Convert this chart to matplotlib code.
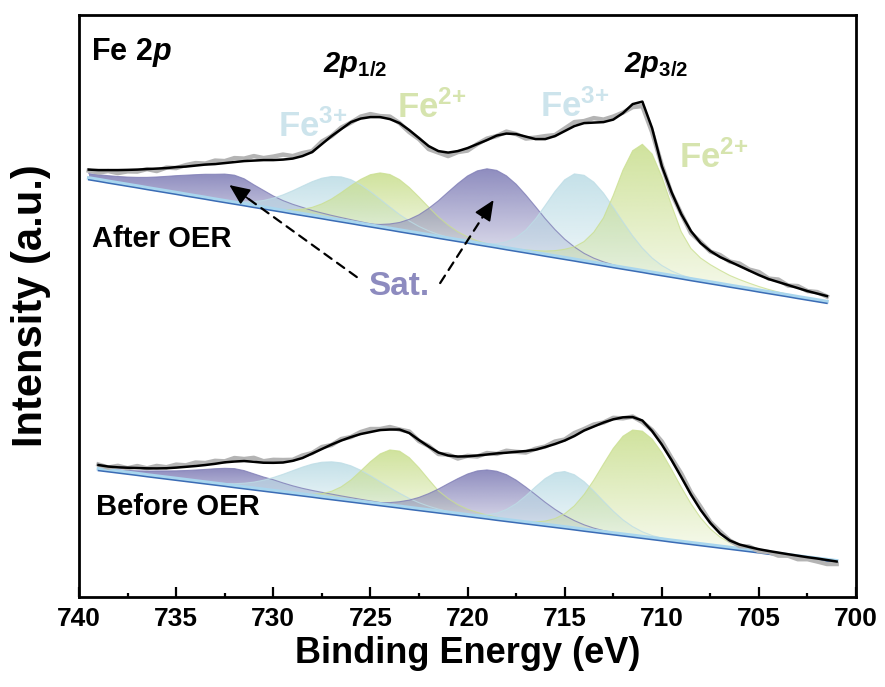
import numpy as np
import matplotlib
matplotlib.use('Agg')
import matplotlib.pyplot as plt
from matplotlib.colors import to_rgb
from matplotlib.ticker import MultipleLocator

# 字体设置 (Arial 替代: Liberation Sans)
plt.rcParams['font.family'] = ['Liberation Sans', 'DejaVu Sans']
plt.rcParams['mathtext.fontset'] = 'custom'
plt.rcParams['mathtext.rm'] = 'Liberation Sans:bold'
plt.rcParams['mathtext.bf'] = 'Liberation Sans:bold'
plt.rcParams['mathtext.it'] = 'Liberation Sans:italic:bold'

step = 0.5  # eV between points

# ---------------- After OER (upper trace), 739.5 -> 701.5 eV ----------------
after_start = 739.5
after_bg = [421.5, 419.9, 418.2, 416.6, 415.0, 413.4, 411.7, 410.1, 408.5, 406.9,
            405.2, 403.6, 402.0, 400.3, 398.7, 397.1, 395.5, 393.8, 392.2, 390.6,
            389.0, 387.3, 385.7, 384.1, 382.5, 380.8, 379.2, 377.6, 375.9, 374.3,
            372.7, 371.1, 369.4, 367.8, 366.2, 364.6, 362.9, 361.3, 359.7, 358.1,
            356.4, 354.8, 353.2, 351.5, 349.9, 348.3, 346.7, 345.0, 343.4, 341.8,
            340.2, 338.5, 336.9, 335.3, 333.6, 332.0, 330.4, 328.8, 327.1, 325.5,
            323.9, 322.3, 320.6, 319.0, 317.4, 315.8, 314.1, 312.5, 310.9, 309.2,
            307.6, 306.0, 304.4, 302.7, 301.1, 299.5, 297.9]
after_fit = [430.5, 430, 430, 430, 430.2, 430.5, 431, 431.5, 432, 433,
             433.5, 434.5, 435.5, 436, 437, 438, 439, 439.5, 440, 440,
             440.5, 441.5, 444, 448, 456, 464, 471, 478, 481.5, 483,
             483, 481, 477, 470, 462, 454, 449, 447.5, 449, 452,
             456, 460, 464.5, 466.5, 466, 463.5, 461, 461, 464, 469,
             474, 477, 477.5, 478, 480.5, 487, 496, 498.5, 472, 434,
             408, 386, 369, 357, 349, 343, 338.5, 334, 329.5, 325,
             321, 318, 315, 312, 309, 306.5, 304]
after_raw = [429.5, 427.5, 429, 427, 428.7, 428.5, 431, 429, 432.5, 432,
             435, 437, 436.5, 439.5, 439, 442, 441.5, 444, 442, 443.5,
             445.5, 444, 447, 449, 458.5, 464, 472.5, 477.5, 483.5, 486,
             484, 483.5, 477, 468, 461, 451, 447.5, 444, 448, 449.5,
             456, 461.5, 464, 468.5, 466, 461.5, 462.5, 464, 465, 471.5,
             478, 479, 482, 480.5, 483.5, 487.5, 493, 494, 468, 435,
             406.5, 386.5, 367, 358, 348.5, 345, 338.5, 336.5, 330.5, 328,
             321.5, 320.5, 314.5, 314, 309, 308, 303.5]
# fitted components: heights above background, first point energy
after_sat1_from = 739.5
after_sat1 = [5.0, 5.5, 6.2, 7.0, 8.0, 9.3, 11.0, 13.0, 15.2, 17.5,
              19.7, 21.8, 23.8, 25.5, 27.3, 27.8, 25.8, 21.5, 17.5, 13.5,
              10.5, 8.5, 7.0, 5.5, 4.6, 3.9, 3.3, 2.8, 2.4, 2.0,
              1.7, 1.4, 1.1, 0.9, 0.7, 0.5, 0.3, 0.2, 0.0]
after_fe3a_from = 733.5
after_fe3a = [0.2, 0.4, 0.8, 1.5, 2.7, 4.6, 7.4, 11.3, 16.2, 22.0, 28.2, 34.3, 39.4, 42.8, 44.0,
              42.8, 39.4, 34.3, 28.2, 22.0, 16.2, 11.3, 7.4, 4.6, 2.7, 1.5, 0.8, 0.4, 0.2]
after_fe2a_from = 730.5
after_fe2a = [0.3, 0.7, 1.5, 2.8, 5.1, 8.6, 13.7, 20.3, 28.3, 36.8, 44.8, 51.1, 54.5,
              54.5, 51.1, 44.8, 36.8, 28.3, 20.3, 13.7, 8.6, 5.1, 2.8, 1.5, 0.7, 0.3]
after_sat2_from = 726.5
after_sat2 = [0.2, 0.4, 0.8, 1.6, 2.9, 5.0, 8.2, 12.9, 19.1, 27.1, 36.4, 46.7, 56.8, 66.0, 72.8, 76.5,
              76.5, 72.8, 66.0, 56.8, 46.7, 36.4, 27.1, 19.1, 12.9, 8.2, 5.0, 2.9, 1.6, 0.8, 0.4, 0.2]
after_fe3b_from = 720.0
after_fe3b = [0.2, 0.6, 1.4, 3.2, 6.6, 12.5, 21.7, 34.4, 49.6, 65.3, 78.5, 86.0,
              86.3, 81.1, 71.6, 59.3, 46.2, 33.8, 23.2, 15.0, 9.1, 5.2, 2.8, 1.4, 0.7, 0.3, 0.1]
after_fe2b_from = 719.5
after_fe2b = [0.2, 0.3, 0.5, 0.8, 1.2, 1.8, 2.7, 4.0, 6.0, 9.0, 13, 20, 31, 47, 71, 98, 119,
              127, 119, 98, 71, 46, 31, 23, 18, 14, 10.5, 8, 6, 4.3, 3, 2, 1.3, 0.8, 0.5, 0.3, 0.1]

# ---------------- Before OER (lower trace), 739.0 -> 701.0 eV ----------------
before_start = 739.0
before_bg = [130.6, 129.4, 128.2, 127.0, 125.8, 124.5, 123.3, 122.1, 120.9, 119.7,
             118.5, 117.3, 116.1, 114.9, 113.6, 112.4, 111.2, 110.0, 108.8, 107.6,
             106.4, 105.2, 104.0, 102.7, 101.5, 100.3, 99.1, 97.9, 96.7, 95.5,
             94.3, 93.1, 91.8, 90.6, 89.4, 88.2, 87.0, 85.8, 84.6, 83.4,
             82.2, 80.9, 79.7, 78.5, 77.3, 76.1, 74.9, 73.7, 72.5, 71.3,
             70.0, 68.8, 67.6, 66.4, 65.2, 64.0, 62.8, 61.6, 60.4, 59.1,
             57.9, 56.7, 55.5, 54.3, 53.1, 51.9, 50.7, 49.5, 48.3, 47.0,
             45.8, 44.6, 43.4, 42.2, 41.0, 39.8, 38.6]
before_fit = [135, 133.5, 132.7, 132.3, 132, 131.7, 131.6, 131.8, 132.4, 133.2,
              134, 135, 136.2, 137.7, 138.5, 139, 138.2, 137.3, 137.2, 137.5,
              139.2, 142, 146.5, 151, 155.5, 159.5, 163, 166, 168, 170,
              170.5, 170.5, 167, 160, 153.5, 147.5, 144.5, 143.5, 143.7, 144.5,
              145.5, 146.6, 147.3, 148.2, 149, 150.3, 153, 156, 159.5, 164,
              169.5, 173.5, 177.5, 180.7, 182.7, 183, 179.5, 169, 155.5, 140,
              123, 105.5, 90, 77, 66.5, 59.5, 55.5, 53, 50.8, 49,
              47.4, 45.8, 44.3, 42.8, 41.5, 40, 38.5]
before_raw = [135.5, 132.5, 134.2, 131.8, 134, 131.7, 134.1, 132.8, 135.4, 134.7,
              137.5, 137, 139.2, 138.7, 142, 141, 142.2, 138.8, 140.2, 140,
              140.2, 144.5, 147, 153, 155, 161, 163, 168, 171, 171,
              173, 170.5, 168.5, 159, 154, 146, 145.5, 141.5, 144.2, 143.5,
              147, 146.1, 149.3, 148.2, 147.5, 151.3, 153.5, 158.5, 160.5, 167,
              171, 175.5, 177.5, 182.2, 181.7, 183.5, 178, 170, 158.5, 142,
              126.5, 107.5, 93, 78, 68.5, 59.5, 54, 53.5, 48.8, 48,
              44.4, 44.3, 40.8, 40.8, 38.5, 36, 36]
before_sat1_from = 739.0
before_sat1 = [1.0, 1.5, 2.0, 2.6, 3.4, 4.5, 5.8, 7.0, 8.3, 9.8,
               11.5, 13.3, 15.2, 16.8, 17.8, 17.0, 15.0, 13.0, 11.5, 9.5,
               7.8, 6.5, 5.6, 5.0, 4.4, 3.8, 3.3, 2.8, 2.4, 2.0,
               1.7, 1.4, 1.1, 0.8, 0.6, 0.4, 0.2, 0.0]
before_fe3a_from = 734.0
before_fe3a = [0.3, 0.5, 0.9, 1.6, 2.7, 4.4, 6.7, 9.8, 13.7, 18.1, 22.9, 27.7, 31.9, 35.1, 36.8,
               36.8, 35.1, 31.9, 27.7, 22.9, 18.1, 13.7, 9.8, 6.7, 4.4, 2.7, 1.6, 0.9, 0.5, 0.3]
before_fe2a_from = 729.0
before_fe2a = [0.3, 0.7, 1.7, 3.6, 7.2, 12.9, 21.0, 31.1, 41.6, 50.6, 55.8,
               55.8, 50.6, 41.6, 31.1, 21.0, 14.5, 9.5, 6.2, 4.2, 2.8, 1.9, 1.2, 0.8, 0.5, 0.3]
before_sat2_from = 726.0
before_sat2 = [0.3, 0.5, 1.0, 1.8, 3.1, 5.2, 8.1, 12.0, 17.0, 22.8, 29.3, 35.6, 41.4, 45.7, 47.9,
               47.9, 45.7, 41.4, 35.6, 29.3, 22.8, 17.0, 12.0, 8.1, 5.2, 3.1, 1.8, 1.0, 0.5, 0.3]
before_fe3b_from = 720.5
before_fe3b = [0.2, 0.6, 1.4, 3.0, 5.9, 10.8, 17.8, 26.9, 37.1, 46.6, 53.5, 56.0,
               54.0, 48.4, 40.3, 31.2, 22.5, 15.0, 9.4, 5.4, 2.9, 1.5, 0.7, 0.3, 0.1]
before_fe2b_from = 718.0
before_fe2b = [0.2, 0.4, 0.9, 1.9, 4.0, 7.7, 13.7, 22.9, 35.5, 51.1, 68.4, 85.2, 98.6, 106.0,
               106.1, 99.4, 87.1, 71.5, 55.0, 39.6, 26.6, 16.8, 9.9, 5.5, 2.8, 1.4, 0.6, 0.3, 0.1]

c_sat = '#7f7db6'
c_fe3 = '#bddde6'
c_fe2 = '#cadf90'


def grad_fill(ax, e, base, top, color):
    # 渐变填充: 峰顶颜色深, 靠近基线变浅
    poly = ax.fill_between(e, base, top, facecolor='none', edgecolor='none')
    clip = poly.get_paths()[0]
    rgba = np.zeros((64, 1, 4))
    rgba[:, 0, :3] = to_rgb(color)
    rgba[:, 0, 3] = np.linspace(0.15, 0.88, 64)
    im = ax.imshow(rgba, extent=(e[0], e[-1], base.min(), top.max()), origin='lower',
                   aspect='auto', interpolation='bilinear', zorder=2)
    im.set_clip_path(clip, transform=ax.transData)
    ax.plot(e, top, color=color, lw=0.8, alpha=0.8, zorder=3)


def draw_spectrum(ax, start, bg, fit, raw, comps):
    e = start - step * np.arange(len(bg))
    bg = np.asarray(bg, dtype=float)
    for e0, h, color in comps:
        i0 = int(round((start - e0) / step))
        h = np.asarray(h, dtype=float)
        base = bg[i0:i0 + len(h)]
        grad_fill(ax, e[i0:i0 + len(h)], base, base + h, color)
    ax.plot(e, bg + 0.6, color='#a9d6ee', lw=2.6, zorder=4)
    ax.plot(e, bg - 1.2, color='#3b6cb5', lw=1.1, zorder=4)
    ax.plot(e, raw, color='#b4b4b4', lw=3.2, zorder=5)
    ax.plot(e, fit, color='black', lw=1.8, zorder=6)


def dashed_arrow(ax, tip, tail):
    ax.annotate('', xy=tip, xytext=tail, zorder=7,
                arrowprops=dict(arrowstyle='-', ls=(0, (4, 3)), lw=1.6, color='black',
                                shrinkA=0, shrinkB=6))
    near = (tip[0] + 0.15 * (tail[0] - tip[0]), tip[1] + 0.15 * (tail[1] - tip[1]))
    ax.annotate('', xy=tip, xytext=near, zorder=7,
                arrowprops=dict(arrowstyle='-|>,head_length=0.9,head_width=0.4', lw=1.2,
                                color='black', shrinkA=0, shrinkB=0, mutation_scale=14))


fig = plt.figure(figsize=(8.85, 6.87), dpi=100)
ax = fig.add_axes([0.0893, 0.131, 0.878, 0.847])

draw_spectrum(ax, after_start, after_bg, after_fit, after_raw, [
    (after_sat1_from, after_sat1, c_sat),
    (after_fe3a_from, after_fe3a, c_fe3),
    (after_fe2a_from, after_fe2a, c_fe2),
    (after_sat2_from, after_sat2, c_sat),
    (after_fe3b_from, after_fe3b, c_fe3),
    (after_fe2b_from, after_fe2b, c_fe2),
])
draw_spectrum(ax, before_start, before_bg, before_fit, before_raw, [
    (before_sat1_from, before_sat1, c_sat),
    (before_fe3a_from, before_fe3a, c_fe3),
    (before_fe2a_from, before_fe2a, c_fe2),
    (before_sat2_from, before_sat2, c_sat),
    (before_fe3b_from, before_fe3b, c_fe3),
    (before_fe2b_from, before_fe2b, c_fe2),
])

# 标注文字
ax.text(739.38, 540, r'Fe $\mathit{2p}$', fontsize=22, fontweight='bold', ha='left', va='baseline')
ax.text(727.45, 528, r'2p$_{\mathit{1/2}}$', fontsize=21, fontweight='bold', style='italic',
        ha='left', va='baseline')
ax.text(711.97, 528, r'2p$_{\mathit{3/2}}$', fontsize=21, fontweight='bold', style='italic',
        ha='left', va='baseline')
ax.text(729.78, 463, r'Fe$^{3{+}}$', fontsize=25, fontweight='bold', color='#cde4ec', ha='left', va='baseline')
ax.text(723.63, 482, r'Fe$^{2{+}}$', fontsize=25, fontweight='bold', color='#d6e4ae', ha='left', va='baseline')
ax.text(716.25, 483, r'Fe$^{3{+}}$', fontsize=25, fontweight='bold', color='#cde4ec', ha='left', va='baseline')
ax.text(709.13, 432, r'Fe$^{2{+}}$', fontsize=25, fontweight='bold', color='#d6e4ae', ha='left', va='baseline')
ax.text(739.33, 353, 'After OER', fontsize=21, fontweight='bold', ha='left', va='baseline')
ax.text(739.12, 85, 'Before OER', fontsize=21, fontweight='bold', ha='left', va='baseline')
ax.text(725.13, 305, 'Sat.', fontsize=24, fontweight='bold', color='#8d8bbf', ha='left', va='baseline')

# Sat. 虚线箭头
dashed_arrow(ax, (732.26, 415), (725.7, 323))
dashed_arrow(ax, (718.66, 400), (721.41, 317))

ax.set_xlim(740, 700)
ax.set_ylim(3, 585)
ax.set_xticks(np.arange(740, 699, -5))
ax.xaxis.set_minor_locator(MultipleLocator(2.5))
ax.set_yticks([])
ax.tick_params(axis='x', which='major', direction='in', length=7, width=1.6, labelsize=19, pad=7)
ax.tick_params(axis='x', which='minor', direction='in', length=3, width=1.6)
for lab in ax.get_xticklabels():
    lab.set_fontweight('bold')
for sp in ax.spines.values():
    sp.set_linewidth(2)

ax.set_xlabel('Binding Energy (eV)', fontsize=26, fontweight='bold', labelpad=4)
ax.set_ylabel('Intensity (a.u.)', fontsize=30, fontweight='bold', labelpad=20)

fig.savefig('out.png', dpi=100)
